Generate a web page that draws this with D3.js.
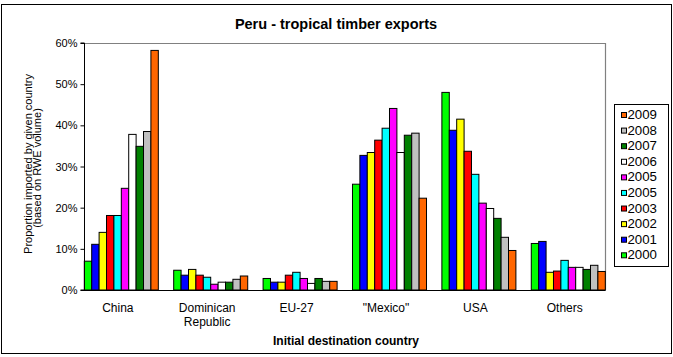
<!DOCTYPE html>
<html>
<head>
<meta charset="utf-8">
<script src="https://cdn.jsdelivr.net/npm/d3@7"></script>
<style>
  html, body { margin: 0; padding: 0; background: #fff; }
  svg { display: block; font-family: Arial, "Liberation Sans", sans-serif; }
</style>
</head>
<body>
<svg id="chart" width="673" height="357"></svg>
<script>
// ---------- DATA ----------
const categories = ["China", "Dominican Republic", "EU-27", "\"Mexico\"", "USA", "Others"];
const seriesLabels = ["2000", "2001", "2002", "2003", "2005", "2005", "2006", "2007", "2008", "2009"];
const seriesColors = ["#00FF00", "#0000FF", "#FFFF00", "#FF0000", "#00FFFF", "#FF00FF", "#FFFFFF", "#008000", "#C0C0C0", "#FF6600"];
// values (%) per series, in category order
const v2000 = [7.0, 4.8, 2.8, 25.7, 48.0, 11.3];
const v2001 = [11.1, 3.6, 1.9, 32.7, 38.8, 11.8];
const v2002 = [14.0, 5.0, 1.9, 33.4, 41.5, 4.3];
const v2003 = [18.1, 3.6, 3.6, 36.4, 33.7, 4.6];
const v2004 = [18.1, 3.1, 4.3, 39.3, 28.1, 7.2];
const v2005 = [24.7, 1.4, 2.8, 44.1, 21.1, 5.5];
const v2006 = [37.8, 1.9, 1.6, 33.4, 19.8, 5.5];
const v2007 = [34.9, 1.9, 2.8, 37.6, 17.4, 5.0];
const v2008 = [38.5, 2.6, 2.1, 38.1, 12.8, 6.0];
const v2009 = [58.2, 3.4, 2.1, 22.3, 9.6, 4.5];
const seriesValues = [v2000, v2001, v2002, v2003, v2004, v2005, v2006, v2007, v2008, v2009];
const yTicks = [0, 10, 20, 30, 40, 50, 60];

// ---------- LAYOUT ----------
const svg = d3.select("#chart");
const plot = { left: 84, right: 605, top: 43, bottom: 290 };

// outer border
svg.append("rect")
  .attr("x", 1.5).attr("y", 4.5).attr("width", 670).attr("height", 349)
  .attr("fill", "#fff").attr("stroke", "#000").attr("stroke-width", 1);

const x0 = d3.scaleBand()
  .domain(categories)
  .range([plot.left + 0.3, plot.right + 0.3])
  .paddingInner(0.172)
  .paddingOuter(0);

const x1 = d3.scaleBand()
  .domain(d3.range(seriesLabels.length))
  .range([0, x0.bandwidth()])
  .padding(0);

const y = d3.scaleLinear().domain([0, 60]).range([plot.bottom, plot.top]);

// plot area border (gray top & right)
svg.append("path")
  .attr("d", `M${plot.left},${plot.top + 0.5}H${plot.right + 0.5}V${plot.bottom}`)
  .attr("fill", "none").attr("stroke", "#808080").attr("stroke-width", 1.2);

// bars
const groups = svg.append("g").selectAll("g")
  .data(categories)
  .join("g")
  .attr("transform", d => `translate(${x0(d)},0)`);

groups.selectAll("rect")
  .data((c, ci) => seriesValues.map((vals, si) => ({ si, v: vals[ci] })))
  .join("rect")
  .attr("x", d => x1(d.si))
  .attr("width", x1.bandwidth())
  .attr("y", d => y(d.v))
  .attr("height", d => y(0) - y(d.v))
  .attr("fill", d => seriesColors[d.si])
  .attr("stroke", "#000")
  .attr("stroke-width", 1);

// y axis
const yAxis = d3.axisLeft(y)
  .tickValues(yTicks)
  .tickSize(4)
  .tickPadding(3)
  .tickFormat(d => d + "%");
const gy = svg.append("g")
  .attr("transform", `translate(${plot.left + 0.5},0)`)
  .call(yAxis);
gy.select(".domain").attr("stroke", "#000").attr("d", `M-4,${plot.top}H0V${plot.bottom}H-4`);
gy.selectAll(".tick line").attr("stroke", "#000");
gy.selectAll("text").attr("font-size", 11).attr("fill", "#000")
  .attr("font-family", "Arial, 'Liberation Sans', sans-serif");

// x axis line
svg.append("line")
  .attr("x1", plot.left).attr("x2", plot.right + 0.5)
  .attr("y1", plot.bottom + 0.5).attr("y2", plot.bottom + 0.5)
  .attr("stroke", "#000").attr("stroke-width", 1.2);

// category labels
const catLines = { "Dominican Republic": ["Dominican", "Republic"] };
categories.forEach(c => {
  const lines = catLines[c] || [c];
  const t = svg.append("text")
    .attr("x", x0(c) + x0.bandwidth() / 2 - 3.5)
    .attr("y", 311.5)
    .attr("text-anchor", "middle")
    .attr("font-size", 12)
    .attr("fill", "#000");
  lines.forEach((ln, i) => {
    t.append("tspan")
      .attr("x", x0(c) + x0.bandwidth() / 2 - 3.5)
      .attr("dy", i === 0 ? 0 : 14.5)
      .text(ln);
  });
});

// title
svg.append("text")
  .attr("x", 336).attr("y", 29)
  .attr("text-anchor", "middle")
  .attr("font-size", 14.5).attr("font-weight", "bold")
  .attr("fill", "#000")
  .text("Peru - tropical timber exports");

// x axis title
svg.append("text")
  .attr("x", 346).attr("y", 345)
  .attr("text-anchor", "middle")
  .attr("font-size", 12).attr("font-weight", "bold")
  .attr("fill", "#000")
  .text("Initial destination country");

// y axis titles
svg.append("text")
  .attr("transform", "translate(31.5,164) rotate(-90)")
  .attr("text-anchor", "middle")
  .attr("font-size", 11).attr("fill", "#000")
  .text("Proportion imported by given country");
svg.append("text")
  .attr("transform", "translate(41,168) rotate(-90)")
  .attr("text-anchor", "middle")
  .attr("font-size", 11).attr("fill", "#000")
  .text("(based on RWE volume)");

// legend
const legend = svg.append("g");
legend.append("rect")
  .attr("x", 614.5).attr("y", 104.5).attr("width", 54).attr("height", 162)
  .attr("fill", "#fff").attr("stroke", "#000").attr("stroke-width", 1);
const legendOrder = d3.range(seriesLabels.length).reverse();
const ly = d3.scalePoint().domain(legendOrder).range([119, 259.3]);
legendOrder.forEach(si => {
  legend.append("rect")
    .attr("x", 621.5).attr("y", ly(si) - 6.5)
    .attr("width", 5).attr("height", 5)
    .attr("fill", seriesColors[si]).attr("stroke", "#000").attr("stroke-width", 1);
  legend.append("text")
    .attr("x", 627.5).attr("y", ly(si))
    .attr("font-size", 12).attr("fill", "#000")
    .attr("textLength", 29.5).attr("lengthAdjust", "spacingAndGlyphs")
    .text(seriesLabels[si]);
});
</script>
</body>
</html>
